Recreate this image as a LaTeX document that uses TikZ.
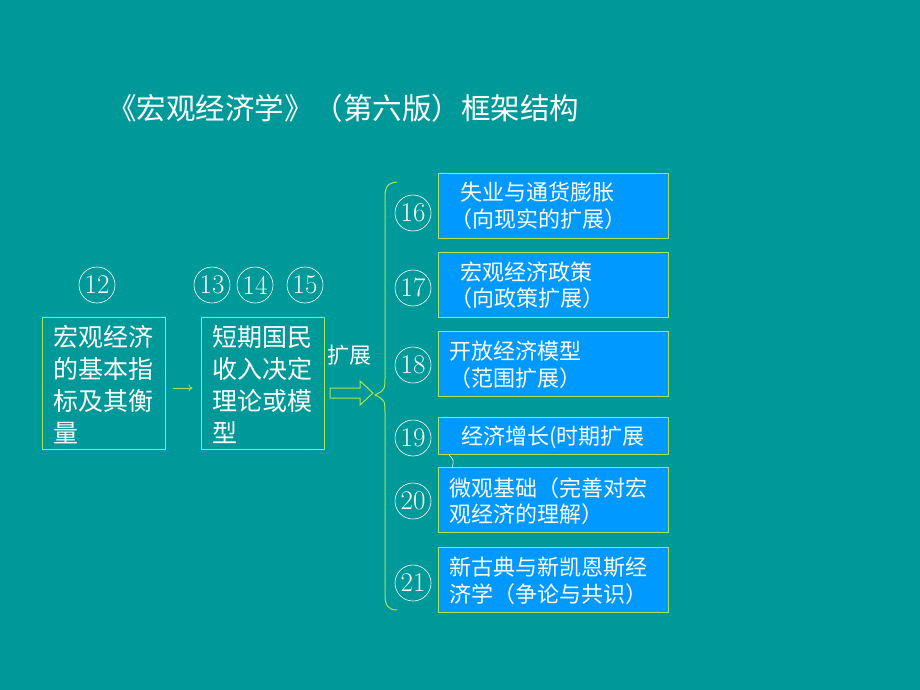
\documentclass[tikz,border=0pt]{standalone}
\usepackage{fontspec}
\usetikzlibrary{arrows.meta}
\newfontfamily\cjk{Noto Sans CJK SC}
\definecolor{bg}{RGB}{0,153,153}
\definecolor{lg}{RGB}{170,230,80}
\definecolor{bx}{RGB}{0,153,255}
\begin{document}
\begin{tikzpicture}[x=1pt,y=-1pt,
 lbox/.style={draw=lg,line width=1pt,fill=bg,minimum width=123pt,minimum height=132pt,inner sep=0pt},
 rbox/.style={draw=lg,line width=1pt,fill=bx,minimum width=230pt,inner sep=0pt},
 num/.style={circle,draw=white,line width=0.6pt,minimum size=36pt,inner sep=0pt,text=white,font=\fontsize{27}{27}\selectfont},
 txt/.style={text=white,font=\cjk\fontsize{22}{26.5}\selectfont,align=left},
 ltxt/.style={text=white,font=\cjk\fontsize{25}{32}\selectfont,align=left}]
\fill[bg] (0,0) rectangle (920,690);
\useasboundingbox (0,0) rectangle (920,690);
\node[txt,font=\cjk\fontsize{29.5}{32}\selectfont] (title) at (343,108) {《宏观经济学》（第六版）框架结构};
\node[lbox] (b1) at (103.5,383) {};
\node[ltxt,anchor=north west] (t1) at (50,322) {宏观经济\\的基本指\\标及其衡\\量};
\node[lbox] (b2) at (262.5,383) {};
\node[ltxt,anchor=north west] (t2) at (209,322) {短期国民\\收入决定\\理论或模\\型};
\node[num] (n12) at (97,285) {12};
\node[num] (n13) at (212,285) {13};
\node[num] (n14) at (255,285) {14};
\node[num] (n15) at (305,285) {15};
\draw[lg,-{To[length=4pt,width=7pt]},line width=0.7pt] (b1.east)++(7,5) coordinate (a1) -- ++(20,0) coordinate (a2);
\node[txt] (kz) at (349,355) {扩展};
\coordinate (br) at (375,395);
\draw[lg,line width=1pt] (330,388) -- (360,388) -- (360,381) -- (373,393) -- (360,405) -- (360,398) -- (330,398) -- cycle;
\draw[lg,line width=1pt] (397,182) .. controls (385,183) and (385,190) .. (385,200) -- (385,375) .. controls (385,390) .. (375,395) .. controls (385,400) .. (385,415) -- (385,595) .. controls (385,605) and (388,610) .. (397,610);
\node[rbox,minimum height=65pt] (r1) at (553,205.5) {};
\node[rbox,minimum height=65pt] (r2) at (553,284.5) {};
\node[rbox,minimum height=65pt] (r3) at (553,363.5) {};
\node[rbox,minimum height=37pt] (r4) at (553,435.5) {};
\node[rbox,minimum height=65pt] (r5) at (553,499.5) {};
\node[rbox,minimum height=65pt] (r6) at (553,579.5) {};
\node[txt,anchor=west] at (447,206) {\ \ 失业与通货膨胀\\（向现实的扩展）};
\node[txt,anchor=west] at (447,285) {\ \ 宏观经济政策\\（向政策扩展）};
\node[txt,anchor=west] at (446,365) {开放经济模型\\（范围扩展）};
\node[txt,anchor=west] at (458,437) {经济增长(时期扩展};
\node[txt,anchor=west] at (446,501) {微观基础（完善对宏\\观经济的理解）};
\node[txt,anchor=west] at (446,581) {新古典与新凯恩斯经\\济学（争论与共识）};
\draw[white,line width=0.6pt] (449,455) .. controls (454,460) .. (452,468);
\node[num] (n16) at (413,213) {16};
\node[num] (n17) at (413,288) {17};
\node[num] (n18) at (413,365) {18};
\node[num] (n19) at (413,438) {19};
\node[num] (n20) at (413,501) {20};
\node[num] (n21) at (413,583) {21};
\end{tikzpicture}
\end{document}
